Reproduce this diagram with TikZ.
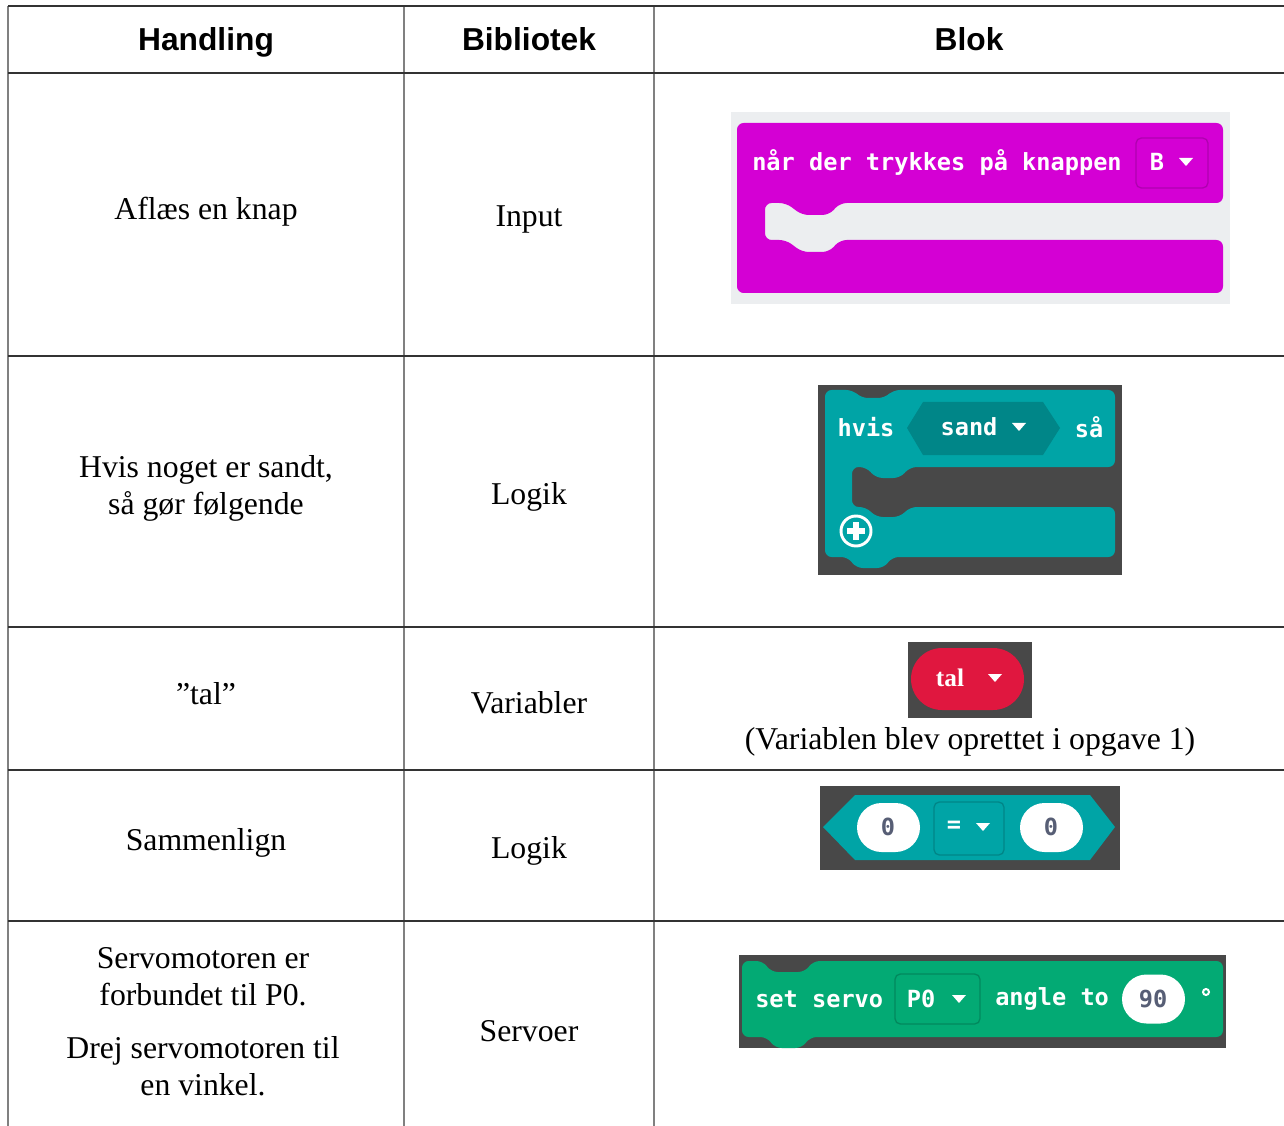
\documentclass[tikz,border=0pt]{standalone}
\usepackage{fontspec}
\usetikzlibrary{shapes.misc}
\setmainfont{Liberation Serif}
\newfontfamily\hdrfont{Liberation Sans}
\newfontfamily\blkfont{DejaVu Sans Mono}
\definecolor{vline}{HTML}{808080}
\definecolor{hline}{HTML}{333333}
\definecolor{bglight}{HTML}{ECEEF0}
\definecolor{bgdark}{HTML}{484848}
\definecolor{magblk}{HTML}{D400D4}
\definecolor{magdark}{HTML}{B000B0}
\definecolor{tealblk}{HTML}{00A4A6}
\definecolor{tealdark}{HTML}{008688}
\definecolor{redblk}{HTML}{E0173F}
\definecolor{greenblk}{HTML}{03AA74}
\definecolor{greendark}{HTML}{02895D}
\definecolor{numtxt}{HTML}{575E75}
\begin{document}
\begin{tikzpicture}[x=0.75pt,y=-0.75pt,
  cell/.style={font=\fontsize{23.8}{27.7}\selectfont, align=center, inner sep=0pt},
  hdr/.style={font=\hdrfont\bfseries\fontsize{23.8}{27.7}\selectfont, inner sep=0pt, anchor=base},
  blk/.style={font=\blkfont\bfseries\fontsize{17.7}{20}\selectfont, text=white, inner sep=0pt},
  numtx/.style={font=\blkfont\bfseries\fontsize{17.7}{20}\selectfont, text=numtxt, inner sep=0pt},
  pill/.style={rounded rectangle, fill=white, inner sep=0pt, minimum width=47.25pt, minimum height=36.75pt},
  vl/.style={draw=vline, line width=1.5pt},
  hl/.style={draw=hline, line width=1.5pt},
  ddarrow/.style={fill=white}
]
\useasboundingbox (0,0) rectangle (1284,1126);
\fill[white] (0,0) rectangle (1284,1126);

% ---- grid ----
\foreach \xx in {8,404,654} \draw[vl] (\xx,6) -- (\xx,1126);
\draw[hl] (8,6) -- (1284,6);
\foreach \yy in {73,356,627,770,921} \draw[hl] (8,\yy) -- (1284,\yy);

% ---- header ----
\node[hdr] (h1) at (206,51) {Handling};
\node[hdr] (h2) at (529,51) {Bibliotek};
\node[hdr] (h3) at (969,51) {Blok};

% ---- column 1 / 2 texts ----
\node[cell] (a1) at (206,212) {Aflæs en knap};
\node[cell] (b1) at (529,219) {Input};
\node[cell] (a2) at (206,488) {Hvis noget er sandt,\\så gør følgende};
\node[cell] (b2) at (529,497) {Logik};
\node[cell] (a3) at (206,694) {”tal”};
\node[cell] (b3) at (529,703) {Variabler};
\node[cell] (a4) at (206,843) {Sammenlign};
\node[cell] (b4) at (529,851) {Logik};
\node[cell] (a5) at (203,977) {Servomotoren er\\forbundet til P0.};
\node[cell] (a5b) at (203,1066) {Drej servomotoren til\\en vinkel.};
\node[cell] (b5) at (529,1031) {Servoer};

% ---- block 1: input ----
\fill[bglight] (731,112) rectangle (1230,304);
\fill[magblk, rounded corners=5] (737,123) -- (1223,123) -- (1223,203) -- (840,203) -- (829,215) -- (802,215) -- (786,203) -- (765,203) -- (765,240) -- (786,240) -- (802,252) -- (829,252) -- (840,240) -- (1223,240) -- (1223,293) -- (737,293) -- cycle;
\node[blk, anchor=west] (t1) at (752,162) {når der trykkes på knappen};
\draw[magdark, line width=1pt, rounded corners=4] (1136,138) rectangle (1208,188);
\node[blk] (t1b) at (1157,162) {B};
\fill[ddarrow] (1179,158) -- (1193,158) -- (1186,166) -- cycle;

% ---- block 2: if ----
\fill[bgdark] (818,385) rectangle (1122,575);
\fill[tealblk, rounded corners=5] (825,390) -- (853,390) -- (861,398) -- (885,398) -- (893,390) -- (1115,390) -- (1115,467) -- (910,467) -- (900,478) -- (876,478) -- (866,467) -- (852,467) -- (852,507) -- (866,507) -- (876,517) -- (900,517) -- (910,507) -- (1115,507) -- (1115,557) -- (892,557) -- (884,568) -- (856,568) -- (848,557) -- (825,557) -- cycle;
\fill[tealdark] (907,428) -- (923,402) -- (1043,402) -- (1060,428) -- (1043,455) -- (923,455) -- cycle;
\node[blk] (t2a) at (866,427) {hvis};
\node[blk] (t2b) at (969,427) {sand};
\fill[ddarrow] (1012,423) -- (1026,423) -- (1019,431) -- cycle;
\node[blk] (t2c) at (1089,427) {så};
\draw[white, line width=2.2pt] (856,531) circle (15);
\draw[white, line width=4.5pt] (847,531) -- (865,531) (856,522) -- (856,540);

% ---- block 3: variable ----
\fill[bgdark] (908,642) rectangle (1032,718);
\node[rounded rectangle, fill=redblk, inner sep=0pt, minimum width=84.75pt, minimum height=46.5pt] (p3) at (967.5,679) {};
\node[font=\bfseries\fontsize{19}{20}\selectfont, text=white, inner sep=0pt] (t3) at (950,678) {tal};
\fill[ddarrow] (988,674) -- (1002,674) -- (995,682) -- cycle;
\node[cell] (c3) at (970,742) {(Variablen blev oprettet i opgave 1)};

% ---- block 4: compare ----
\fill[bgdark] (820,786) rectangle (1120,870);
\fill[tealblk] (823,827) -- (855,795) -- (1090,795) -- (1115,827) -- (1090,860) -- (855,860) -- cycle;
\node[pill] (p4a) at (888.5,827.5) {};
\node[pill] (p4c) at (1051.5,827.5) {};
\draw[tealdark, line width=1pt, rounded corners=4] (934,802) rectangle (1004,855);
\node[numtx] (t4a) at (888,827) {0};
\node[numtx] (t4c) at (1051,827) {0};
\node[blk] (t4b) at (954,827) {=};
\fill[ddarrow] (976,823) -- (990,823) -- (983,831) -- cycle;

% ---- block 5: servo ----
\fill[bgdark] (739,955) rectangle (1226,1048);
\fill[greenblk, rounded corners=5] (742,961) -- (763,961) -- (771,972) -- (805,972) -- (813,961) -- (1223,961) -- (1223,1037) -- (810,1037) -- (802,1048) -- (775,1048) -- (767,1037) -- (742,1037) -- cycle;
\node[blk, anchor=west] (t5a) at (755,999) {set servo};
\draw[greendark, line width=1pt, rounded corners=4] (895,974) rectangle (980,1024);
\node[blk] (t5b) at (921,999) {P0};
\fill[ddarrow] (952,995) -- (966,995) -- (959,1003) -- cycle;
\node[blk, anchor=west] (t5c) at (995,999) {angle to};
\node[pill] (p5) at (1153.5,999) {};
\node[numtx] (t5d) at (1153,999) {90};
\draw[white, line width=1.5pt] (1206,992) circle (3);
\end{tikzpicture}
\end{document}
